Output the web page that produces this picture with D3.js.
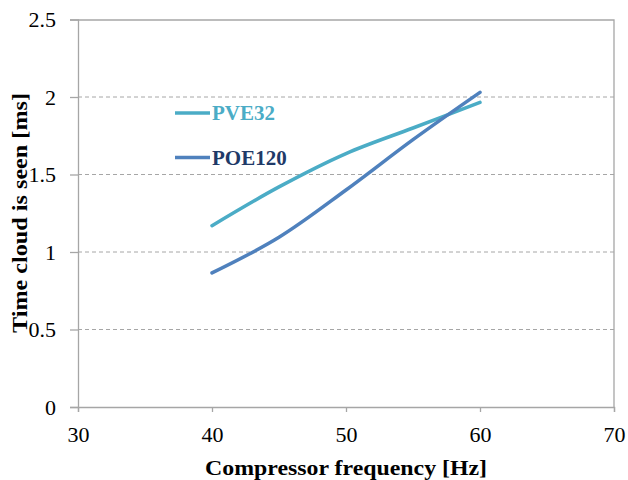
<!DOCTYPE html>
<html>
<head>
<meta charset="utf-8">
<script src="https://cdn.jsdelivr.net/npm/d3@7"></script>
<style>
  body { margin: 0; background: #fff; }
  text { font-family: "Liberation Serif", "Times New Roman", serif; }
</style>
</head>
<body>
<div id="chart"></div>
<script>
// data
var freq = [40, 45, 50, 55, 60];
var pve32 = [1.17, 1.42, 1.635, 1.80, 1.965];
var poe120 = [0.865, 1.095, 1.40, 1.725, 2.03];
var xTicks = [30, 40, 50, 60, 70];
var yTicks = [0, 0.5, 1, 1.5, 2, 2.5];
var seriesNames = ["PVE32", "POE120"];

var svgWidth = 628;
var svgHeight = 480;
var margin = { top: 19.5, right: 14, bottom: 73, left: 78 };
var width = svgWidth - margin.left - margin.right;
var height = svgHeight - margin.top - margin.bottom;

var svg = d3.select("#chart")
  .append("svg")
  .attr("width", svgWidth)
  .attr("height", svgHeight);

var chartGroup = svg.append("g")
  .attr("transform", `translate(${margin.left}, ${margin.top})`);

var xScale = d3.scaleLinear().domain([30, 70]).range([0, width]);
var yScale = d3.scaleLinear().domain([0, 2.5]).range([height, 0]);

// dashed gridlines
chartGroup.selectAll(".grid")
  .data(yTicks.filter(d => d > 0 && d < 2.5))
  .enter().append("line")
  .attr("x1", 0)
  .attr("x2", width)
  .attr("y1", d => yScale(d))
  .attr("y2", d => yScale(d))
  .attr("stroke", "#a6a6a6")
  .attr("stroke-width", 1)
  .attr("stroke-dasharray", "4,3");

// plot box (top & right)
chartGroup.append("path")
  .attr("d", `M0,0.5H${width}V${height}`)
  .attr("fill", "none")
  .attr("stroke", "#a6a6a6")
  .attr("stroke-width", 1.3);

var bottomAxis = d3.axisBottom(xScale).tickValues(xTicks).tickSize(5).tickPadding(14);
var leftAxis = d3.axisLeft(yScale).tickValues(yTicks).tickSize(8).tickPadding(14)
  .tickFormat(d => String(d));

var xAxis = chartGroup.append("g")
  .attr("transform", `translate(0, ${height})`)
  .call(bottomAxis);

var yAxis = chartGroup.append("g").call(leftAxis);

[xAxis, yAxis].forEach(function(ax) {
  ax.select(".domain").attr("stroke", "#a6a6a6").attr("stroke-width", 1.3);
  ax.selectAll(".tick line").attr("stroke", "#a6a6a6").attr("stroke-width", 1.3);
  ax.selectAll(".tick text")
    .attr("font-family", "Liberation Serif, serif")
    .attr("font-size", "22px")
    .attr("fill", "#000");
});

// lines
var colors = ["#4bacc6", "#4f81bd"];
var textColors = ["#4bacc6", "#1f3a68"];
var allSeries = [pve32, poe120];

var line = d3.line()
  .x((d, i) => xScale(freq[i]))
  .y(d => yScale(d))
  .curve(d3.curveCatmullRom.alpha(0.5));

allSeries.forEach(function(vals, k) {
  chartGroup.append("path")
    .datum(vals)
    .attr("d", line)
    .attr("fill", "none")
    .attr("stroke", colors[k])
    .attr("stroke-width", 3.5)
    .attr("stroke-linecap", "round");
});

// legend
var legend = svg.append("g").attr("transform", "translate(175, 113)");
seriesNames.forEach(function(name, k) {
  var g = legend.append("g").attr("transform", `translate(0, ${k * 44.5})`);
  g.append("line")
    .attr("x1", 0).attr("x2", 35)
    .attr("stroke", colors[k])
    .attr("stroke-width", 3.5);
  g.append("text")
    .attr("x", 37)
    .attr("dy", "0.35em")
    .attr("font-size", "21px")
    .attr("font-weight", "bold")
    .attr("fill", textColors[k])
    .text(name);
});

// axis titles
svg.append("text")
  .attr("x", margin.left + xScale(50))
  .attr("y", 475)
  .attr("text-anchor", "middle")
  .attr("font-size", "22px")
  .attr("font-weight", "bold")
  .attr("textLength", 282)
  .attr("lengthAdjust", "spacingAndGlyphs")
  .text("Compressor frequency [Hz]");

svg.append("text")
  .attr("transform", "translate(27, 213) rotate(-90)")
  .attr("text-anchor", "middle")
  .attr("font-size", "22px")
  .attr("font-weight", "bold")
  .attr("textLength", 240)
  .attr("lengthAdjust", "spacingAndGlyphs")
  .text("Time cloud is seen [ms]");
</script>
</body>
</html>
